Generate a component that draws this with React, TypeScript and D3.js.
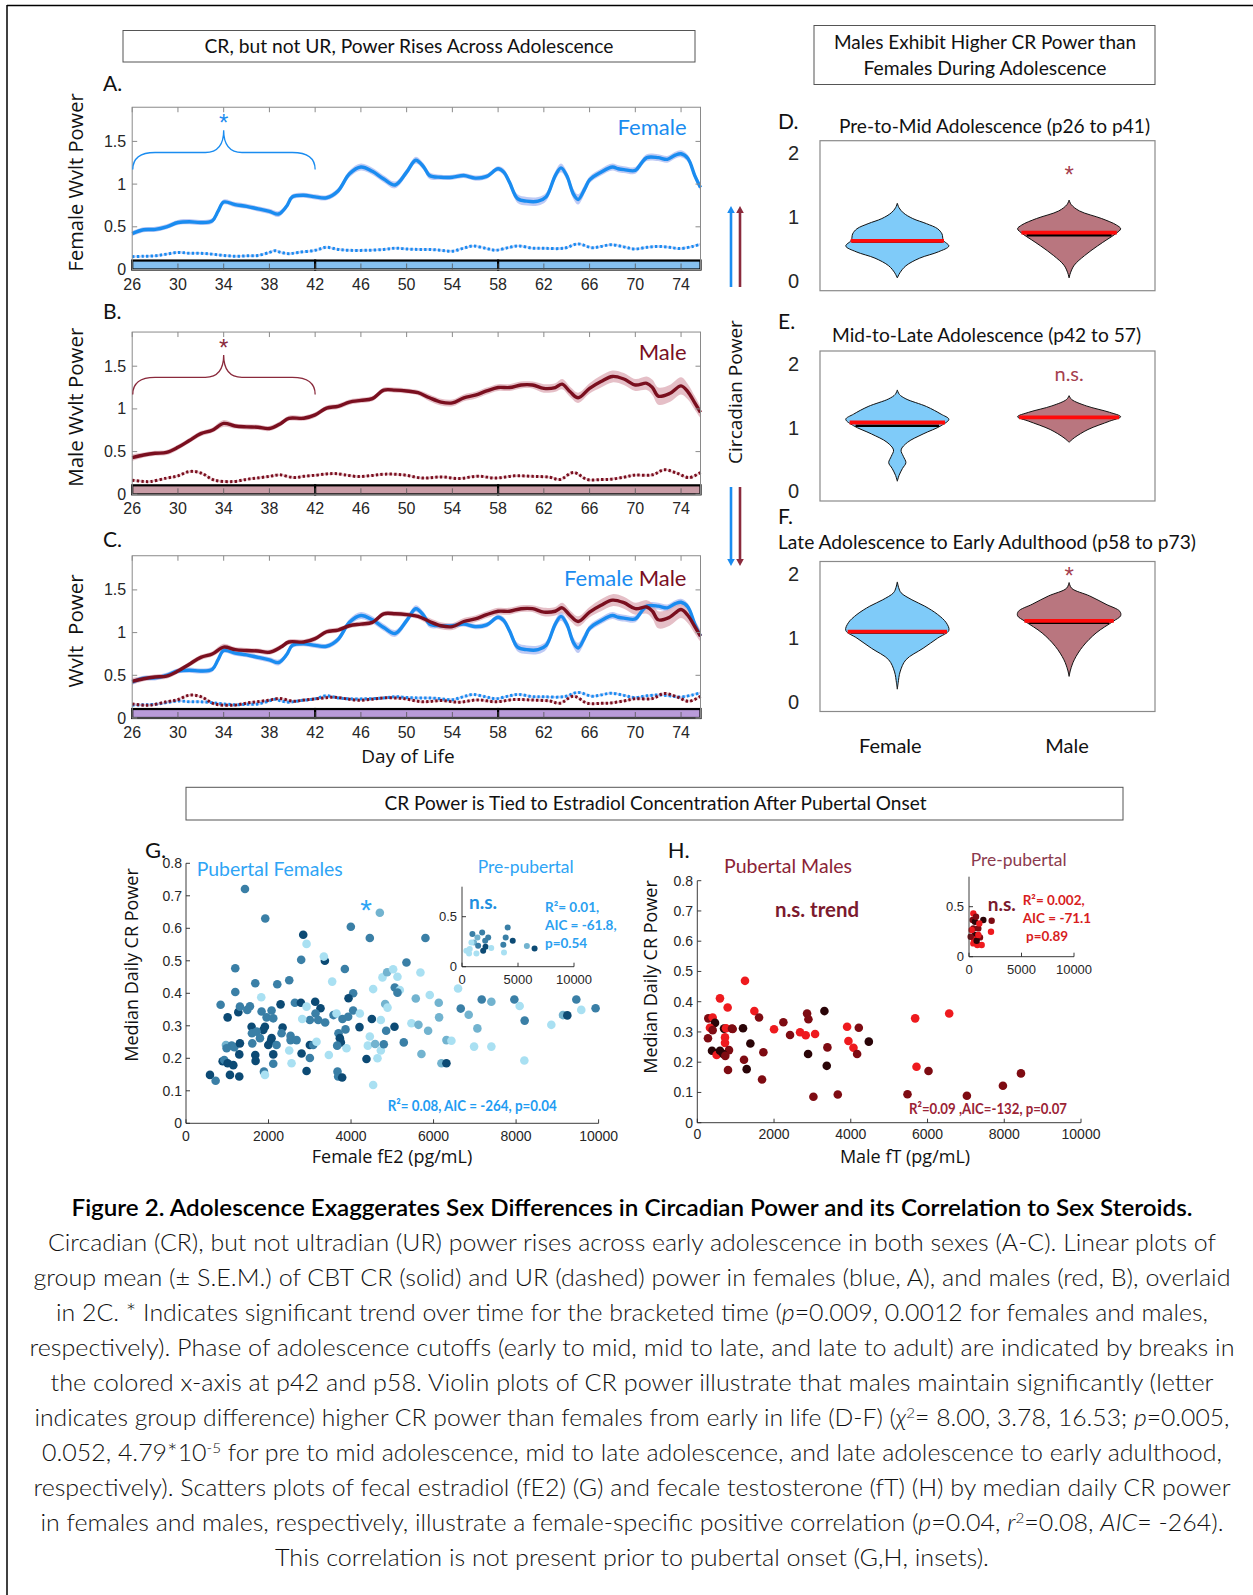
import React from "react";
import * as d3 from "d3";

// ---------- Panels A–C: group mean wavelet power by day of life ----------
// [day, mean, s.e.m.]
const femaleCR = [
  [26, 0.42, 0.03], [27, 0.465, 0.03], [28, 0.47, 0.03], [29, 0.5, 0.03], [30, 0.55, 0.03],
  [31, 0.56, 0.03], [32, 0.55, 0.03], [33, 0.57, 0.03], [33.5, 0.68, 0.03], [34, 0.79, 0.03],
  [35, 0.76, 0.03], [36, 0.74, 0.03], [37, 0.71, 0.03], [38, 0.68, 0.03], [38.8, 0.65, 0.035],
  [39.5, 0.74, 0.03], [40, 0.85, 0.03], [41, 0.87, 0.03], [42, 0.85, 0.03], [43, 0.84, 0.03],
  [44, 0.92, 0.035], [45, 1.12, 0.04], [46, 1.2, 0.04], [47, 1.15, 0.04], [48, 1.06, 0.04],
  [49, 0.99, 0.04], [50, 1.14, 0.04], [50.8, 1.28, 0.04], [51.5, 1.2, 0.04], [52, 1.1, 0.04],
  [53, 1.08, 0.03], [54, 1.08, 0.03], [55, 1.1, 0.03], [56, 1.07, 0.03], [57, 1.09, 0.03],
  [58, 1.18, 0.03], [58.5, 1.14, 0.04], [59, 1.02, 0.04], [59.7, 0.83, 0.05], [60.5, 0.8, 0.05],
  [61.5, 0.8, 0.05], [62.2, 0.85, 0.05], [63, 1.1, 0.05], [63.5, 1.19, 0.05], [64, 1.1, 0.05],
  [64.6, 0.88, 0.06], [65, 0.82, 0.06], [65.6, 0.95, 0.05], [66, 1.05, 0.04], [67, 1.14, 0.04],
  [68, 1.2, 0.04], [68.5, 1.18, 0.04], [69, 1.17, 0.04], [70, 1.16, 0.04], [70.5, 1.24, 0.04],
  [71, 1.31, 0.04], [72, 1.31, 0.04], [72.8, 1.29, 0.04], [73.5, 1.34, 0.04], [74, 1.355, 0.04],
  [74.6, 1.3, 0.04], [75.2, 1.1, 0.04], [75.7, 0.96, 0.04],
];

const maleCR = [
  [26, 0.43, 0.04], [27, 0.46, 0.03], [28, 0.48, 0.03], [29, 0.49, 0.03], [30, 0.55, 0.03],
  [31, 0.63, 0.03], [32, 0.71, 0.03], [33, 0.75, 0.03], [34, 0.83, 0.04], [35, 0.8, 0.03],
  [36, 0.79, 0.03], [37, 0.785, 0.03], [38, 0.77, 0.03], [39, 0.83, 0.03], [39.7, 0.89, 0.03],
  [41, 0.89, 0.03], [42, 0.93, 0.03], [43, 1.01, 0.03], [44, 1.03, 0.03], [45, 1.08, 0.03],
  [46, 1.1, 0.03], [47, 1.12, 0.03], [48, 1.22, 0.03], [49, 1.22, 0.03], [50, 1.21, 0.03],
  [51, 1.19, 0.03], [52, 1.13, 0.04], [53, 1.08, 0.04], [54, 1.07, 0.04], [55, 1.13, 0.04],
  [56, 1.16, 0.04], [57, 1.21, 0.04], [58, 1.25, 0.04], [59, 1.25, 0.04], [60, 1.28, 0.04],
  [61, 1.28, 0.04], [62, 1.24, 0.05], [63, 1.25, 0.05], [63.6, 1.29, 0.06], [64.3, 1.2, 0.06],
  [65, 1.13, 0.06], [66, 1.24, 0.06], [67, 1.32, 0.07], [68, 1.38, 0.07], [69, 1.35, 0.07],
  [70, 1.28, 0.07], [71, 1.3, 0.08], [71.5, 1.25, 0.09], [72, 1.15, 0.1], [73, 1.18, 0.1],
  [74, 1.27, 0.1], [74.6, 1.2, 0.09], [75.2, 1.07, 0.08], [75.7, 0.96, 0.07],
];

// ultradian power [day, mean]
const femaleUR = [
  [26, 0.15], [27, 0.155], [28, 0.16], [29, 0.18], [30, 0.2], [31, 0.19], [32, 0.19], [33, 0.18],
  [34, 0.165], [35, 0.155], [36, 0.16], [37, 0.165], [38, 0.2], [38.5, 0.22], [39, 0.2],
  [39.7, 0.185], [40.5, 0.2], [42, 0.225], [43, 0.26], [44, 0.235], [45, 0.225], [46.5, 0.225],
  [48, 0.235], [49, 0.25], [50, 0.24], [51, 0.235], [52, 0.235], [53, 0.225], [54, 0.215],
  [55, 0.25], [55.8, 0.275], [57, 0.245], [57.8, 0.226], [59, 0.26], [59.8, 0.276], [61, 0.25],
  [62, 0.248], [63.8, 0.25], [65, 0.3], [66.2, 0.255], [67, 0.27], [67.9, 0.29], [69, 0.265],
  [69.9, 0.24], [71, 0.26], [72, 0.27], [73, 0.26], [73.9, 0.245], [75, 0.27], [75.7, 0.296],
];

const maleUR = [
  [26, 0.165], [27, 0.15], [27.6, 0.15], [29, 0.19], [30, 0.216], [31, 0.267], [32, 0.25],
  [33.2, 0.165], [34.9, 0.15], [36, 0.175], [36.9, 0.19], [38, 0.21], [38.9, 0.228], [40.1, 0.196],
  [41, 0.21], [42.1, 0.224], [43, 0.238], [43.7, 0.243], [44.5, 0.23], [45.7, 0.208], [47, 0.22],
  [48.1, 0.236], [49.7, 0.228], [51.4, 0.19], [53, 0.204], [54.6, 0.185], [56.2, 0.212],
  [57.8, 0.19], [59.4, 0.216], [61, 0.21], [62.5, 0.2], [63.4, 0.173], [64.6, 0.255],
  [65.8, 0.173], [67, 0.172], [67.9, 0.177], [69, 0.2], [69.9, 0.224], [71.5, 0.228],
  [72.5, 0.287], [73.5, 0.255], [74.7, 0.196], [75.7, 0.255],
];

const dayTicks = [26, 30, 34, 38, 42, 46, 50, 54, 58, 62, 66, 70, 74];
const powerTicks = [0, 0.5, 1, 1.5];
const phaseBreaks = [26, 42, 58, 75.7];

// ---------- Panels D–F: violin density profiles [power, half-width] ----------
const violinFemaleD = [[1.22, 0], [1.15, 0.01], [1.07, 0.035], [0.98, 0.09], [0.9, 0.17], [0.82, 0.235], [0.74, 0.26], [0.64, 0.268], [0.55, 0.3], [0.46, 0.24], [0.36, 0.13], [0.24, 0.05], [0.13, 0.015], [0.05, 0]];
const violinMaleD = [[1.27, 0], [1.2, 0.012], [1.1, 0.06], [0.98, 0.19], [0.88, 0.275], [0.82, 0.3], [0.74, 0.27], [0.65, 0.22], [0.55, 0.165], [0.4, 0.09], [0.25, 0.03], [0.13, 0.008], [0.05, 0]];
const violinFemaleE = [[1.59, 0], [1.52, 0.012], [1.45, 0.05], [1.33, 0.17], [1.21, 0.255], [1.13, 0.3], [1.03, 0.255], [0.9, 0.15], [0.77, 0.06], [0.65, 0.022], [0.55, 0.035], [0.45, 0.05], [0.36, 0.03], [0.25, 0.01], [0.16, 0]];
const violinMaleE = [[1.5, 0], [1.44, 0.015], [1.34, 0.1], [1.24, 0.235], [1.17, 0.3], [1.1, 0.235], [0.97, 0.11], [0.84, 0.03], [0.77, 0]];
const violinFemaleF = [[1.88, 0], [1.79, 0.008], [1.71, 0.022], [1.6, 0.085], [1.5, 0.16], [1.37, 0.235], [1.24, 0.285], [1.12, 0.3], [1.0, 0.235], [0.84, 0.15], [0.66, 0.05], [0.47, 0.016], [0.3, 0.005], [0.2, 0]];
const violinMaleF = [[1.87, 0], [1.78, 0.015], [1.66, 0.12], [1.53, 0.215], [1.42, 0.295], [1.35, 0.3], [1.26, 0.255], [1.08, 0.157], [0.87, 0.08], [0.66, 0.03], [0.5, 0.008], [0.4, 0]];

const violinTicks = [0, 1, 2];
const groups = ["Female", "Male"];
// [female, male] per phase
const mediansD = [0.63, 0.76], meansD = [0.62, 0.72];
const mediansE = [1.08, 1.16], meansE = [1.03, 1.155];
const mediansF = [1.1, 1.27], meansF = [1.09, 1.24];

// ---------- Panel G: pubertal females [fE2 pg/mL, median daily CR power, shade] ----------
const femalePoints = [
  [1429, 0.721, 1], [1921, 0.63, 1], [2841, 0.58, 0], [2922, 0.552, 3], [2792, 0.503, 1], [3366, 0.5, 0],
  [3341, 0.513, 3], [3850, 0.475, 1], [3995, 0.605, 1], [4455, 0.57, 1], [4698, 0.648, 2], [5803, 0.57, 1],
  [1194, 0.477, 1], [2502, 0.44, 1], [2212, 0.428, 1], [1679, 0.431, 1], [1195, 0.404, 1], [1824, 0.388, 3],
  [839, 0.365, 1], [1550, 0.36, 1], [1268, 0.342, 0], [1009, 0.326, 0], [1485, 0.349, 1], [1832, 0.344, 1],
  [1953, 0.326, 1], [1913, 0.297, 0], [1872, 0.287, 0], [1590, 0.297, 0], [1598, 0.277, 1], [2115, 0.323, 1],
  [2292, 0.366, 0], [2639, 0.371, 1], [2785, 0.371, 0], [3131, 0.374, 0], [3260, 0.354, 0], [3139, 0.338, 1],
  [3204, 0.318, 1], [3002, 0.318, 1], [2817, 0.321, 3], [2922, 0.359, 3], [3373, 0.31, 1], [3575, 0.333, 1],
  [3648, 0.338, 3], [3793, 0.321, 1], [3930, 0.328, 1], [4051, 0.347, 1], [4051, 0.4, 1], [3939, 0.385, 0],
  [3543, 0.436, 3], [4213, 0.338, 3], [3866, 0.289, 1], [3696, 0.277, 1], [3729, 0.262, 0], [3753, 0.249, 0],
  [3664, 0.239, 1], [3890, 0.231, 3], [4205, 0.296, 0], [4504, 0.321, 0], [4722, 0.318, 3], [4455, 0.267, 3],
  [4407, 0.239, 3], [4584, 0.244, 2], [4722, 0.224, 3], [4794, 0.243, 1], [4374, 0.198, 0], [4641, 0.2, 3],
  [4536, 0.118, 3], [4851, 0.285, 1], [5053, 0.297, 0], [5278, 0.249, 1], [4536, 0.413, 3], [4762, 0.449, 3],
  [4875, 0.465, 2], [5020, 0.474, 3], [5125, 0.451, 3], [5343, 0.495, 1], [5060, 0.418, 1], [5182, 0.41, 3],
  [5125, 0.402, 1], [4827, 0.367, 2], [4884, 0.356, 3], [5569, 0.384, 2], [5682, 0.464, 3], [5908, 0.395, 3],
  [6126, 0.371, 2], [5464, 0.308, 3], [5634, 0.303, 2], [5868, 0.285, 2], [6134, 0.326, 2], [5706, 0.213, 2],
  [6312, 0.256, 2], [6433, 0.254, 3], [6191, 0.185, 2], [6312, 0.185, 0], [6594, 0.415, 3], [6659, 0.353, 1],
  [6852, 0.334, 2], [7062, 0.292, 2], [6982, 0.236, 3], [7401, 0.236, 3], [7167, 0.381, 1], [7401, 0.374, 2],
  [7958, 0.381, 1], [8087, 0.361, 3], [8208, 0.316, 1], [8200, 0.193, 3], [8854, 0.303, 3], [9137, 0.333, 2],
  [9242, 0.332, 0], [9460, 0.381, 1], [9580, 0.349, 3], [9927, 0.354, 1], [581, 0.149, 0], [718, 0.131, 1],
  [888, 0.191, 0], [928, 0.195, 1], [1009, 0.185, 0], [1146, 0.179, 0], [1065, 0.149, 0], [1291, 0.144, 0],
  [1291, 0.212, 0], [968, 0.241, 2], [1106, 0.239, 1], [1170, 0.234, 1], [1307, 0.246, 0], [985, 0.231, 1],
  [1606, 0.246, 1], [1711, 0.282, 1], [1792, 0.262, 1], [1679, 0.21, 0], [1687, 0.192, 0], [1889, 0.159, 1],
  [1913, 0.149, 3], [2074, 0.262, 0], [1994, 0.241, 0], [2058, 0.253, 0], [2115, 0.212, 0], [2115, 0.183, 1],
  [2195, 0.241, 1], [2341, 0.295, 0], [2316, 0.277, 1], [2534, 0.269, 1], [2534, 0.256, 1], [2680, 0.256, 1],
  [2502, 0.224, 3], [2558, 0.185, 3], [2801, 0.215, 0], [3002, 0.201, 1], [2922, 0.161, 0], [3002, 0.241, 0],
  [3083, 0.241, 1], [3164, 0.251, 3], [3462, 0.21, 3], [3672, 0.159, 1], [3688, 0.144, 1], [3785, 0.141, 0],
  [1307, 0.359, 1], [2074, 0.347, 1],
];
const femalePrePoints = [
  [930, 0.327, 1], [1800, 0.343, 1], [1380, 0.293, 2], [2340, 0.293, 1], [2070, 0.26, 1], [1890, 0.16, 0],
  [2100, 0.2, 0], [1080, 0.243, 2], [840, 0.243, 3], [690, 0.177, 3], [630, 0.133, 3], [1290, 0.133, 3],
  [2610, 0.187, 3], [4080, 0.393, 1], [3900, 0.293, 1], [3690, 0.22, 1], [4530, 0.26, 0], [3750, 0.143, 3],
  [5790, 0.207, 2], [6480, 0.183, 0], [1440, 0.21, 1], [390, 0.16, 3],
];
const femaleShades = ["#0c4a74", "#3a7fa6", "#72b3cf", "#a9e0f2"];

// ---------- Panel H: pubertal males [fT pg/mL, median daily CR power, shade] ----------
const malePoints = [
  [1243, 0.469, 2], [591, 0.411, 2], [791, 0.381, 2], [1487, 0.369, 2], [1609, 0.348, 1], [287, 0.345, 1],
  [400, 0.348, 2], [461, 0.33, 0], [330, 0.314, 2], [400, 0.306, 1], [696, 0.311, 0], [748, 0.312, 2],
  [904, 0.311, 1], [278, 0.279, 1], [722, 0.282, 2], [722, 0.264, 2], [383, 0.238, 0], [826, 0.24, 1],
  [504, 0.224, 2], [591, 0.238, 0], [678, 0.227, 0], [730, 0.221, 1], [800, 0.174, 1], [1191, 0.312, 0],
  [1383, 0.262, 0], [1217, 0.208, 1], [1287, 0.177, 0], [1687, 0.143, 1], [1722, 0.233, 1], [2000, 0.309, 2],
  [2243, 0.332, 1], [2417, 0.29, 1], [2678, 0.299, 2], [2826, 0.289, 2], [3070, 0.293, 2], [2861, 0.361, 1],
  [2896, 0.342, 1], [3313, 0.369, 0], [2887, 0.227, 0], [3391, 0.249, 1], [3374, 0.188, 0], [3026, 0.086, 1],
  [3661, 0.093, 1], [3904, 0.317, 2], [4209, 0.314, 1], [3939, 0.27, 2], [4070, 0.248, 2], [4165, 0.227, 1],
  [4470, 0.268, 0], [5678, 0.345, 2], [6565, 0.361, 2], [5713, 0.185, 2], [6026, 0.171, 1], [5478, 0.094, 1],
  [7026, 0.089, 1], [7965, 0.122, 1], [8435, 0.163, 1], [922, 0.31, 1],
];
const malePrePoints = [
  [413, 0.433, 2], [349, 0.367, 1], [571, 0.35, 0], [1365, 0.367, 0], [2159, 0.36, 1], [2095, 0.25, 2],
  [413, 0.283, 1], [889, 0.283, 1], [571, 0.217, 0], [1048, 0.193, 1], [476, 0.173, 2], [413, 0.133, 2],
  [794, 0.117, 2], [1206, 0.117, 2], [730, 0.16, 0], [254, 0.267, 2], [984, 0.333, 2], [667, 0.4, 1],
  [159, 0.2, 1], [889, 0.217, 2],
];
const maleShades = ["#2a0407", "#7e0b12", "#ee1a1e"];

const hormoneTicks = [0, 2000, 4000, 6000, 8000, 10000];
const crTicks = [0, 0.1, 0.2, 0.3, 0.4, 0.5, 0.6, 0.7, 0.8];
const insetXTicks = [0, 5000, 10000];
const insetYTicks = [0, 0.5];

// ---------- caption ----------
type Seg = string | [string, string];
const captionTitle = "Figure 2. Adolescence Exaggerates Sex Differences in Circadian Power and its Correlation to Sex Steroids.";
const captionLines: Seg[][] = [
  ["Circadian (CR), but not ultradian (UR) power rises across early adolescence in both sexes (A-C). Linear plots of"],
  ["group mean (± S.E.M.) of CBT CR (solid) and UR (dashed) power in females (blue, A), and males (red, B), overlaid"],
  ["in 2C. * Indicates significant trend over time for the bracketed time (", ["p", "i"], "=0.009, 0.0012 for females and males,"],
  ["respectively). Phase of adolescence cutoffs (early to mid, mid to late, and late to adult) are indicated by breaks in"],
  ["the colored x-axis at p42 and p58. Violin plots of CR power illustrate that males maintain significantly (letter"],
  ["indicates group difference) higher CR power than females from early in life (D-F) (", ["χ", "i"], ["2", "s"], "= 8.00, 3.78, 16.53; ", ["p", "i"], "=0.005,"],
  ["0.052, 4.79*10", ["-5", "s"], " for pre to mid adolescence, mid to late adolescence, and late adolescence to early adulthood,"],
  ["respectively). Scatters plots of fecal estradiol (fE2) (G) and fecale testosterone (fT) (H) by median daily CR power"],
  ["in females and males, respectively, illustrate a female-specific positive correlation (", ["p", "i"], "=0.04, ", ["r", "i"], ["2", "s"], "=0.08, ", ["AIC", "i"], "= -264)."],
  ["This correlation is not present prior to pubertal onset (G,H, insets)."],
];
const captionWidths = [1168, 1197, 1152, 1205, 1163, 1195, 1180, 1197, 1183, 714];

// ---------- styling ----------
const TICK = "'Liberation Sans Narrow','Liberation Sans',Arial,sans-serif";
const SANS = "'Liberation Sans',Arial,sans-serif";
const LABEL = "'Open Sans','Noto Sans',sans-serif";
const CAL = "Lato,'Open Sans',sans-serif";
const BLUE = "#1a8cf0";
const BLUE_BAND = "#aab8f0";
const RED = "#7a0f1f";
const RED_BAND = "#dcaab4";
const AXIS = "#8a8a8a";
const TXT = "#262626";

const LX0 = 132.2, LX1 = 700.5, UNIT = 85.4;

function LinePanel({ y0, letter, letterDy, ylabel, ylabelLen, showF, showM, barFill, brace, tag }: any) {
  const x = d3.scaleLinear().domain([26, 75.7]).range([LX0, LX1]);
  const y = d3.scaleLinear().domain([0, 1.9]).range([y0, y0 - 1.9 * UNIT]);
  const band = d3.area<any>().x((d) => x(d[0])).y0((d) => y(d[1] - d[2])).y1((d) => y(d[1] + d[2])).curve(d3.curveCatmullRom);
  const line = d3.line<any>().x((d) => x(d[0])).y((d) => y(d[1])).curve(d3.curveCatmullRom);
  const urBand = (arr: number[][]) => band(arr.map((d) => [d[0], d[1], 0.013]));
  const top = y(1.9);
  const series = [] as any[];
  if (showF) series.push({ cr: femaleCR, ur: femaleUR, c: BLUE, b: BLUE_BAND });
  if (showM) series.push({ cr: maleCR, ur: maleUR, c: RED, b: RED_BAND });

  let bracePath = "";
  if (brace) {
    const yb = y(1.17), yh = y(1.37), yt = y(1.63);
    bracePath = `M${x(26.05)},${yb} Q${x(26.05)},${yh} ${x(28)},${yh} L${x(32.4)},${yh} Q${x(34)},${yh} ${x(34)},${yt} Q${x(34)},${yh} ${x(35.6)},${yh} L${x(40)},${yh} Q${x(42)},${yh} ${x(42)},${yb}`;
  }

  return (
    <g>
      <text x={103} y={top - 17 + letterDy} fontFamily={CAL} fontSize={21} fill="#111">{letter}</text>
      <text transform={`translate(83,${y(1.02)}) rotate(-90)`} textAnchor="middle" fontFamily={LABEL} fontSize={20} fill="#111" textLength={ylabelLen} lengthAdjust="spacingAndGlyphs" style={{ whiteSpace: "pre" }}>{ylabel}</text>
      {/* bands first, then UR dotted, then CR lines */}
      {series.map((s, i) => (
        <g key={"b" + i}>
          <path d={band(s.cr) || ""} fill={s.b} opacity={0.75} />
          <path d={urBand(s.ur) || ""} fill={s.b} opacity={0.6} />
        </g>
      ))}
      {series.map((s, i) => (
        <path key={"u" + i} d={line(s.ur) || ""} fill="none" stroke={s.c} strokeWidth={3} strokeDasharray="2.4 2.2" />
      ))}
      {series.map((s, i) => (
        <path key={"c" + i} d={line(s.cr) || ""} fill="none" stroke={s.c} strokeWidth={3.4} strokeLinejoin="round" />
      ))}
      {/* phase-coloured x axis */}
      {phaseBreaks.slice(0, -1).map((p, i) => (
        <rect key={"ph" + i} x={x(p)} y={y(0.105)} width={x(phaseBreaks[i + 1]) - x(p)} height={y(0) - y(0.105)} fill={barFill} stroke="#000" strokeWidth={2.2} />
      ))}
      <rect x={LX0} y={top} width={LX1 - LX0} height={y0 - top} fill="none" stroke={AXIS} strokeWidth={1} />
      {dayTicks.map((t) => (
        <g key={"xt" + t}>
          <line x1={x(t)} x2={x(t)} y1={y0} y2={y0 - 6} stroke="#555" strokeWidth={0.8} />
          <line x1={x(t)} x2={x(t)} y1={top} y2={top + 5} stroke={AXIS} strokeWidth={1} />
          <text x={x(t)} y={y0 + 20} textAnchor="middle" fontFamily={TICK} fontSize={16} fill={TXT}>{t}</text>
        </g>
      ))}
      {powerTicks.map((t) => (
        <g key={"yt" + t}>
          <line x1={LX0} x2={LX0 + 5} y1={y(t)} y2={y(t)} stroke={AXIS} />
          <line x1={LX1} x2={LX1 - 5} y1={y(t)} y2={y(t)} stroke={AXIS} />
          <text x={LX0 - 6} y={y(t) + 5.5} textAnchor="end" fontFamily={TICK} fontSize={16} fill={TXT}>{t}</text>
        </g>
      ))}
      {brace && (
        <g>
          <path d={bracePath} fill="none" stroke={brace.color} strokeWidth={1.3} />
          <text x={x(34)} y={y(1.62)} textAnchor="middle" fontFamily={SANS} fontSize={24} fill={brace.color}>*</text>
        </g>
      )}
      <text x={686.5} y={y(tag.v) + 7} textAnchor="end" fontFamily={CAL} fontSize={22}>
        {tag.parts.map((p: any, i: number) => (
          <tspan key={i} fill={p[1]}>{p[0]}</tspan>
        ))}
      </text>
    </g>
  );
}

const VX0 = 820, VX1 = 1155, VH = 150;
const vX = d3.scaleLinear().domain([0.55, 2.5]).range([VX0, VX1]);

function widthAt(profile: number[][], v: number) {
  for (let i = 0; i < profile.length - 1; i++) {
    const [a, wa] = profile[i];
    const [b, wb] = profile[i + 1];
    if (v <= a && v >= b) return wa + ((wb - wa) * (a - v)) / (a - b);
  }
  return 0;
}

function ViolinPanel({ top, letter, letterY, title, titleX, titleW, titleY, profiles, medians, means, mark, markV, markSize }: any) {
  const x = vX;
  const y = d3.scaleLinear().domain([-0.15, 2.2]).range([top + VH, top]);
  const fills = ["#7fcbf9", "#b9767f"];
  return (
    <g>
      <text x={778} y={letterY} fontFamily={CAL} fontSize={21} fill="#111">{letter}</text>
      <text x={titleX} y={titleY} fontFamily={CAL} fontSize={19.5} fill="#111" textLength={titleW} lengthAdjust="spacingAndGlyphs">{title}</text>
      <rect x={VX0} y={top} width={VX1 - VX0} height={VH} fill="#fff" stroke={AXIS} strokeWidth={1.2} />
      {violinTicks.map((t) => (
        <text key={t} x={799} y={y(t) + 7} textAnchor="end" fontFamily={SANS} fontSize={20} fill={TXT}>{t}</text>
      ))}
      {profiles.map((prof: number[][], gi: number) => {
        const c = gi + 1;
        const area = d3.area<any>().y((d) => y(d[0])).x0((d) => x(c - d[1])).x1((d) => x(c + d[1])).curve(d3.curveCatmullRom);
        const wMean = widthAt(prof, means[gi]);
        const wMed = widthAt(prof, medians[gi]);
        return (
          <g key={gi}>
            <path d={area(prof) || ""} fill={fills[gi]} stroke="#111" strokeWidth={1} />
            <line x1={x(c - wMean) + 2} x2={x(c + wMean) - 2} y1={y(means[gi])} y2={y(means[gi])} stroke="#000" strokeWidth={2.6} />
            <line x1={x(c - wMed)} x2={x(c + wMed)} y1={y(medians[gi])} y2={y(medians[gi])} stroke="#ff0a0a" strokeWidth={3.8} />
          </g>
        );
      })}
      <text x={x(2)} y={y(markV)} textAnchor="middle" fontFamily={mark === "*" ? SANS : CAL} fontSize={markSize} fill="#a5404f">{mark}</text>
    </g>
  );
}

function Scatter({ x0, x1, y0, y1, yMax, xTicks, yTicks, points, shades, r, fontSize, labelDy, yLabelX }: any) {
  const x = d3.scaleLinear().domain([0, 10000]).range([x0, x1]);
  const y = d3.scaleLinear().domain([0, yMax]).range([y0, y1]);
  return (
    <g>
      {points.map((p: number[], i: number) => (
        <circle key={i} cx={x(p[0])} cy={y(p[1])} r={r} fill={shades[p[2]]} />
      ))}
      <line x1={x0} x2={x1} y1={y0} y2={y0} stroke="#262626" strokeWidth={0.9} />
      <line x1={x0} x2={x0} y1={y0} y2={y1} stroke="#262626" strokeWidth={0.9} />
      {xTicks.map((t: number) => (
        <g key={"x" + t}>
          <line x1={x(t)} x2={x(t)} y1={y0} y2={y0 - 4} stroke="#262626" strokeWidth={0.9} />
          <text x={x(t)} y={y0 + labelDy} textAnchor="middle" fontFamily={SANS} fontSize={fontSize} fill={TXT}>{t}</text>
        </g>
      ))}
      {yTicks.map((t: number) => (
        <g key={"y" + t}>
          <line x1={x0} x2={x0 + 4} y1={y(t)} y2={y(t)} stroke="#262626" strokeWidth={0.9} />
          <text x={yLabelX} y={y(t) + fontSize * 0.36} textAnchor="end" fontFamily={SANS} fontSize={fontSize} fill={TXT}>{t}</text>
        </g>
      ))}
    </g>
  );
}

function Arrow({ x, y1, y2, color }: any) {
  const dir = y2 < y1 ? -1 : 1;
  return (
    <g>
      <line x1={x} x2={x} y1={y1} y2={y2 - dir * 6} stroke={color} strokeWidth={2.6} />
      <path d={`M${x - 3.8},${y2 - dir * 7} L${x + 3.8},${y2 - dir * 7} L${x},${y2} Z`} fill={color} />
    </g>
  );
}

function renderSegs(segs: Seg[]) {
  const out: any[] = [];
  let shifted = false;
  segs.forEach((s, i) => {
    if (typeof s === "string") {
      out.push(<tspan key={i} dy={shifted ? 8 : 0}>{s}</tspan>);
      shifted = false;
    } else if (s[1] === "i") {
      out.push(<tspan key={i} fontStyle="italic" dy={shifted ? 8 : 0}>{s[0]}</tspan>);
      shifted = false;
    } else {
      out.push(<tspan key={i} fontSize={14} dy={-8}>{s[0]}</tspan>);
      shifted = true;
    }
  });
  return out;
}

export default function App() {
  const fTag = { v: 1.66, parts: [["Female", BLUE]] };
  const mTag = { v: 1.66, parts: [["Male", RED]] };
  const cTag = { v: 1.63, parts: [["Female", BLUE], [" Male", RED]] };
  return (
    <svg width={1253} height={1595} viewBox="0 0 1253 1595" style={{ position: "absolute", left: 0, top: 0, background: "#fff" }}>
      <rect x={0} y={0} width={1253} height={1595} fill="#fff" />
      {/* outer frame */}
      <line x1={7} x2={1253} y1={5.5} y2={5.5} stroke="#000" strokeWidth={1.5} />
      <line x1={7} x2={7} y1={5} y2={1595} stroke="#000" strokeWidth={1.5} />

      {/* A–C */}
      <rect x={123} y={30.5} width={572} height={31.5} fill="#fff" stroke="#555" strokeWidth={1} />
      <text x={409} y={53} textAnchor="middle" fontFamily={CAL} fontSize={19} fill="#111" textLength={409} lengthAdjust="spacingAndGlyphs">CR, but not UR, Power Rises Across Adolescence</text>
      <LinePanel y0={269.5} letter="A." letterDy={1} ylabel="Female Wvlt Power" ylabelLen={178} showF barFill="#86c0f0" brace={{ color: BLUE }} tag={fTag} />
      <LinePanel y0={494.3} letter="B." letterDy={4} ylabel="Male Wvlt Power" ylabelLen={159} showM barFill="#c99ca6" brace={{ color: "#8a2a3c" }} tag={mTag} />
      <LinePanel y0={718} letter="C." letterDy={8} ylabel="Wvlt  Power" ylabelLen={113} showF showM barFill="#b99bd9" tag={cTag} />
      <text x={408} y={763} textAnchor="middle" fontFamily={LABEL} fontSize={19} fill="#111">Day of Life</text>

      {/* D–F */}
      <rect x={814} y={25.5} width={341} height={59} fill="#fff" stroke="#555" strokeWidth={1} />
      <text x={985} y={49} textAnchor="middle" fontFamily={CAL} fontSize={19.5} fill="#111" textLength={302} lengthAdjust="spacingAndGlyphs">Males Exhibit Higher CR Power than</text>
      <text x={985} y={75} textAnchor="middle" fontFamily={CAL} fontSize={19.5} fill="#111" textLength={243} lengthAdjust="spacingAndGlyphs">Females During Adolescence</text>
      <ViolinPanel top={140.7} letter="D." letterY={129} title="Pre-to-Mid Adolescence (p26 to p41)" titleX={839} titleW={311} titleY={133} profiles={[violinFemaleD, violinMaleD]} medians={mediansD} means={meansD} mark="*" markV={1.54} markSize={24} />
      <ViolinPanel top={351} letter="E." letterY={329} title="Mid-to-Late Adolescence (p42 to 57)" titleX={832} titleW={309} titleY={341.5} profiles={[violinFemaleE, violinMaleE]} medians={mediansE} means={meansE} mark="n.s." markV={1.73} markSize={20} />
      <ViolinPanel top={561.5} letter="F." letterY={524} title="Late Adolescence to Early Adulthood (p58 to p73)" titleX={778} titleW={418} titleY={549} profiles={[violinFemaleF, violinMaleF]} medians={mediansF} means={meansF} mark="*" markV={1.84} markSize={24} />
      {groups.map((g, i) => (
        <text key={g} x={vX(i + 1) - (i === 0 ? 7 : 2)} y={753} textAnchor="middle" fontFamily={CAL} fontSize={20} fill="#111">{g}</text>
      ))}
      <text transform="translate(742,392) rotate(-90)" textAnchor="middle" fontFamily={LABEL} fontSize={19} fill="#111">Circadian Power</text>
      <Arrow x={731} y1={287} y2={206} color={BLUE} />
      <Arrow x={740} y1={287} y2={206} color="#8a2a3c" />
      <Arrow x={731} y1={487} y2={566} color={BLUE} />
      <Arrow x={740} y1={487} y2={566} color="#8a2a3c" />

      {/* G–H */}
      <rect x={186} y={787.3} width={937} height={32.7} fill="#fff" stroke="#555" strokeWidth={1} />
      <text x={655.5} y={809.5} textAnchor="middle" fontFamily={CAL} fontSize={19} fill="#111" textLength={542} lengthAdjust="spacingAndGlyphs">CR Power is Tied to Estradiol Concentration After Pubertal Onset</text>

      <text x={145} y={858} fontFamily={CAL} fontSize={22} fill="#111">G.</text>
      <Scatter x0={186} x1={598.6} y0={1123.3} y1={863.3} yMax={0.8} xTicks={hormoneTicks} yTicks={crTicks} points={femalePoints} shades={femaleShades} r={4.3} fontSize={14} labelDy={18} yLabelX={182} />
      <text x={196.7} y={875.5} fontFamily={CAL} fontSize={20} fill="#2ea4f5" textLength={146} lengthAdjust="spacingAndGlyphs">Pubertal Females</text>
      <text x={366} y={920} textAnchor="middle" fontFamily={SANS} fontSize={30} fill="#2ea4f5">*</text>
      <text x={387.7} y={1111} fontFamily={CAL} fontWeight={700} fontSize={14.5} fill="#1f9cf2" textLength={169} lengthAdjust="spacingAndGlyphs">R²= 0.08, AIC = -264, p=0.04</text>
      <text transform="translate(138,965) rotate(-90)" textAnchor="middle" fontFamily={LABEL} fontSize={18} fill="#111">Median Daily CR Power</text>
      <text x={392} y={1163} textAnchor="middle" fontFamily={LABEL} fontSize={18} fill="#111">Female fE2 (pg/mL)</text>
      {/* G inset: pre-pubertal */}
      <Scatter x0={462} x1={574} y0={966.7} y1={886.7} yMax={0.8} xTicks={insetXTicks} yTicks={insetYTicks} points={femalePrePoints} shades={femaleShades} r={3} fontSize={13} labelDy={17} yLabelX={457} />
      <text x={477.7} y={873} fontFamily={CAL} fontSize={17} fill="#2ea4f5" textLength={96} lengthAdjust="spacingAndGlyphs">Pre-pubertal</text>
      <text x={469} y={909} fontFamily={CAL} fontWeight={700} fontSize={19} fill="#1f8fe0">n.s.</text>
      <text x={545} y={911.5} fontFamily={CAL} fontWeight={700} fontSize={13.5} fill="#2ba0f0">R²= 0.01,</text>
      <text x={545} y={929.5} fontFamily={CAL} fontWeight={700} fontSize={13.5} fill="#2ba0f0">AIC = -61.8,</text>
      <text x={545} y={947.5} fontFamily={CAL} fontWeight={700} fontSize={13.5} fill="#2ba0f0">p=0.54</text>

      <text x={667.7} y={858} fontFamily={CAL} fontSize={22} fill="#111">H.</text>
      <Scatter x0={697.3} x1={1081} y0={1122.7} y1={880.7} yMax={0.8} xTicks={hormoneTicks} yTicks={crTicks} points={malePoints} shades={maleShades} r={4.3} fontSize={14} labelDy={16} yLabelX={693} />
      <text x={724} y={873} fontFamily={CAL} fontSize={20} fill="#8b2436" textLength={128} lengthAdjust="spacingAndGlyphs">Pubertal Males</text>
      <text x={775} y={917} fontFamily={CAL} fontWeight={700} fontSize={20} fill="#7b1a2e" textLength={84} lengthAdjust="spacingAndGlyphs">n.s. trend</text>
      <text x={909} y={1114} fontFamily={CAL} fontWeight={700} fontSize={14.5} fill="#9b2335" textLength={158} lengthAdjust="spacingAndGlyphs">R²=0.09 ,AIC=-132, p=0.07</text>
      <text transform="translate(657,977) rotate(-90)" textAnchor="middle" fontFamily={LABEL} fontSize={18} fill="#111">Median Daily CR Power</text>
      <text x={905} y={1163} textAnchor="middle" fontFamily={LABEL} fontSize={18} fill="#111">Male fT (pg/mL)</text>
      {/* H inset: pre-pubertal */}
      <Scatter x0={969} x1={1074} y0={956.7} y1={876.7} yMax={0.8} xTicks={insetXTicks} yTicks={insetYTicks} points={malePrePoints} shades={maleShades} r={3.2} fontSize={13} labelDy={17} yLabelX={964} />
      <text x={970.7} y={866} fontFamily={CAL} fontSize={17} fill="#8b3a4e" textLength={96} lengthAdjust="spacingAndGlyphs">Pre-pubertal</text>
      <text x={987.7} y={911} fontFamily={CAL} fontWeight={700} fontSize={19} fill="#7b1a2e">n.s.</text>
      <text x={1022.7} y={905} fontFamily={CAL} fontWeight={700} fontSize={13.5} fill="#d81e1e">R²= 0.002,</text>
      <text x={1022.7} y={922.5} fontFamily={CAL} fontWeight={700} fontSize={13.5} fill="#d81e1e">AIC = -71.1</text>
      <text x={1026} y={940.5} fontFamily={CAL} fontWeight={700} fontSize={13.5} fill="#d81e1e">p=0.89</text>

      {/* caption */}
      <text x={632} y={1216} textAnchor="middle" fontFamily={CAL} fontWeight={600} fontSize={23} fill="#000" textLength={1121} lengthAdjust="spacingAndGlyphs">{captionTitle}</text>
      {captionLines.map((segs, i) => (
        <text key={i} x={632} y={1251 + i * 35.05} textAnchor="middle" fontFamily={CAL} fontWeight={300} fontSize={23} fill="#111" textLength={captionWidths[i]} lengthAdjust="spacingAndGlyphs">
          {renderSegs(segs)}
        </text>
      ))}
    </svg>
  );
}
